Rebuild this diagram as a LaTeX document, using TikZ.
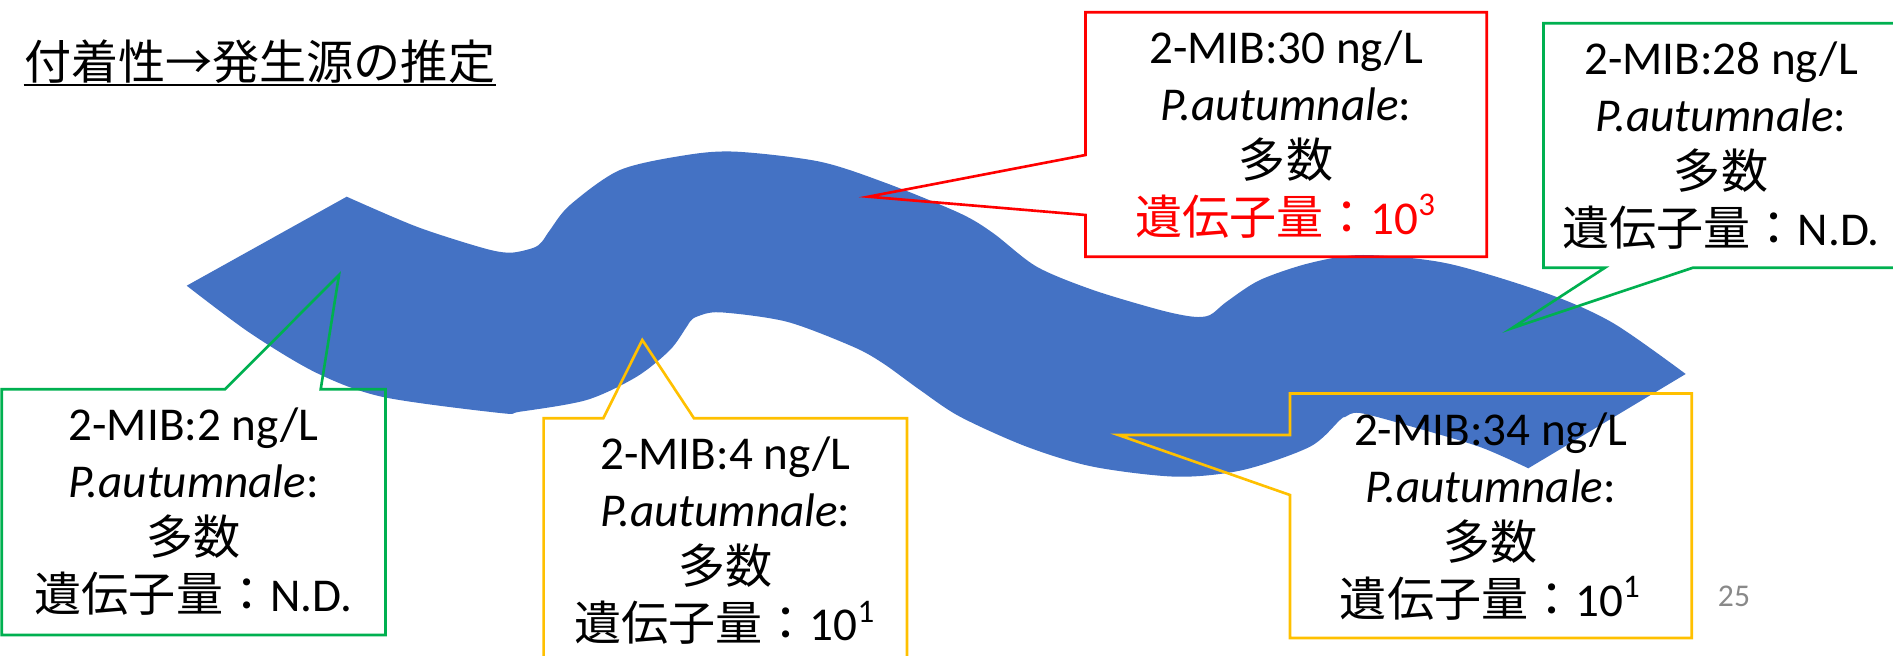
\documentclass[tikz,border=0pt]{standalone}
\usepackage{fontspec}
\usepackage{xcolor}
\setmainfont{Carlito}
\newfontfamily\jpfont{Noto Sans CJK JP}
\definecolor{riverblue}{RGB}{68, 114, 196}
\definecolor{markgreen}{RGB}{0, 176, 80}
\definecolor{markyellow}{RGB}{255, 192, 0}
\definecolor{markred}{RGB}{255, 0, 0}
\definecolor{pagegray}{RGB}{137, 137, 137}

\begin{document}
\begin{tikzpicture}[
    bubble/.style={line width=0.75pt, line join=miter},
    memo/.style={align=center, inner sep=0pt, font=\fontsize{13.4}{16.2}\selectfont}
]
    % Page area
    \useasboundingbox (0,0) rectangle (18.93,6.55);

    % Title - underlined
    \node[anchor=base west, inner sep=0pt, font=\fontsize{13.4}{16}\selectfont\jpfont] (title) at (0.235,5.75) {付着性→発生源の推定};
    \draw[line width=0.6pt] (title.south west) -- (title.south east);

    % River - upper bank, cut at the right end, lower bank
    \fill[riverblue] plot[smooth, tension=0.5] coordinates {(3.467,4.583) (4.167,4.283) (4.83,4.07) (5.10,4.023) (5.33,4.07) (5.417,4.13) (5.50,4.25) (5.70,4.50) (6.20,4.85) (6.867,5.00) (7.367,5.033) (8.20,4.933) (8.867,4.717) (9.60,4.417) (9.93,4.22) (10.367,3.883) (10.93,3.65) (11.60,3.45) (11.93,3.383) (12.10,3.40) (12.267,3.533) (12.60,3.75) (13.10,3.92) (13.63,4.00) (14.467,3.917) (15.467,3.617) (16.13,3.32) (16.857,2.81)}
        -- plot[smooth, tension=0.5] coordinates {(15.283,1.867) (14.80,2.08) (14.13,2.28) (13.60,2.42) (13.45,2.38) (13.40,2.35) (13.10,2.083) (12.43,1.85) (11.767,1.783) (10.93,1.883) (10.267,2.083) (9.60,2.383) (9.20,2.65) (8.83,2.917) (8.53,3.083) (7.867,3.333) (7.20,3.427) (6.967,3.383) (6.90,3.333) (6.867,3.283) (6.70,3.05) (6.367,2.783) (5.867,2.55) (5.20,2.433) (5.00,2.42) (3.83,2.58) (3.167,2.82) (2.50,3.22) (1.867,3.693)}
        -- cycle;

    % Pointer tips on the river
    \coordinate (tipA) at (3.39,3.80);
    \coordinate (tipB) at (6.423,3.15);
    \coordinate (tipC) at (8.683,4.583);
    \coordinate (tipD) at (15.117,3.267);
    \coordinate (tipE) at (11.183,2.20);

    % Callout outlines
    \draw[bubble, markgreen] (0.018,2.657) -- (2.25,2.657) -- (tipA) -- (3.207,2.657) -- (3.855,2.657) -- (3.855,0.20) -- (0.018,0.20) -- cycle;
    \draw[bubble, markyellow] (5.436,2.367) -- (6.033,2.367) -- (tipB) -- (6.94,2.367) -- (9.07,2.367) -- (9.07,-0.09) -- (5.436,-0.09) -- cycle;
    \draw[bubble, markred] (10.855,6.427) -- (14.867,6.427) -- (14.867,3.983) -- (10.855,3.983) -- (10.855,4.40) -- (tipC) -- (10.855,5.00) -- cycle;
    \draw[bubble, markgreen] (15.435,6.317) -- (18.98,6.317) -- (18.98,3.873) -- (16.93,3.873) -- (tipD) -- (16.05,3.873) -- (15.435,3.873) -- cycle;
    \draw[bubble, markyellow] (12.90,2.615) -- (16.917,2.615) -- (16.917,0.17) -- (12.90,0.17) -- (12.90,1.60) -- (tipE) -- (12.90,2.20) -- cycle;

    % Callout texts
    \node[memo] (siteA) at (1.935,1.43) {2-MIB:2 ng/L\\\textit{P.autumnale}:\\{\jpfont 多数}\\{\jpfont 遺伝子量：}N.D.};
    \node[memo] (siteB) at (7.253,1.14) {2-MIB:4 ng/L\\\textit{P.autumnale}:\\{\jpfont 多数}\\{\jpfont 遺伝子量：}10\textsuperscript{1}};
    \node[memo] (siteC) at (12.86,5.205) {2-MIB:30 ng/L\\\textit{P.autumnale}:\\{\jpfont 多数}\\\textcolor{markred}{{\jpfont 遺伝子量：}10\textsuperscript{3}}};
    \node[memo] (siteD) at (17.21,5.095) {2-MIB:28 ng/L\\\textit{P.autumnale}:\\{\jpfont 多数}\\{\jpfont 遺伝子量：}N.D.};
    \node[memo] (siteE) at (14.908,1.387) {2-MIB:34 ng/L\\\textit{P.autumnale}:\\{\jpfont 多数}\\{\jpfont 遺伝子量：}10\textsuperscript{1}};

    % Page number
    \node[font=\fontsize{9}{10}\selectfont, text=pagegray] (pagenum) at (17.34,0.59) {25};
\end{tikzpicture}
\end{document}
